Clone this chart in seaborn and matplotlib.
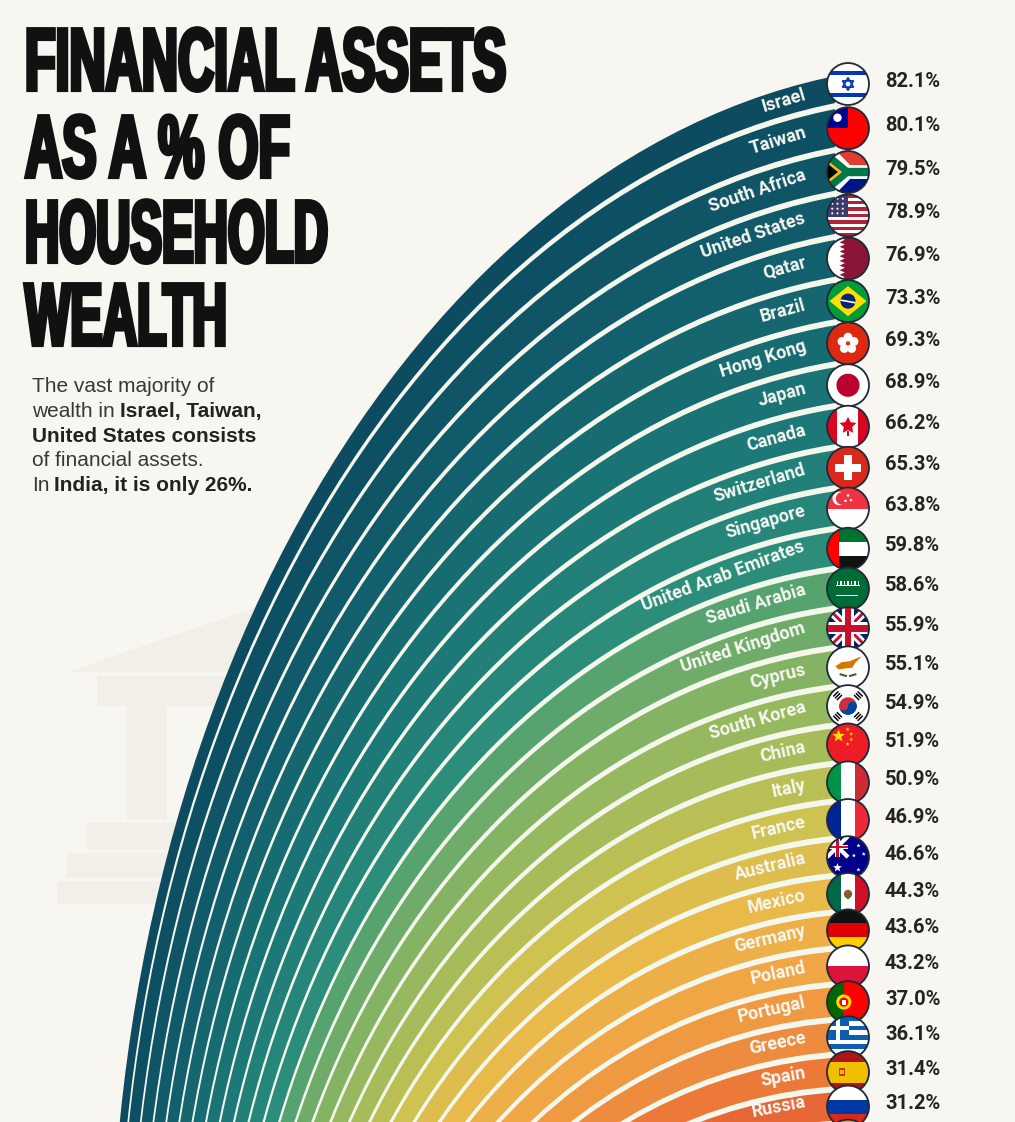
import numpy as np
import pandas as pd
import matplotlib
matplotlib.use('Agg')
import matplotlib.pyplot as plt
import seaborn as sns
from matplotlib import patches, font_manager
from matplotlib.colors import LinearSegmentedColormap
from matplotlib.patheffects import AbstractPathEffect
from matplotlib.transforms import Affine2D
from matplotlib.textpath import TextPath

# data
countries = ['Israel', 'Taiwan', 'South Africa', 'United States', 'Qatar', 'Brazil',
             'Hong Kong', 'Japan', 'Canada', 'Switzerland', 'Singapore',
             'United Arab Emirates', 'Saudi Arabia', 'United Kingdom', 'Cyprus',
             'South Korea', 'China', 'Italy', 'France', 'Australia', 'Mexico',
             'Germany', 'Poland', 'Portugal', 'Greece', 'Spain', 'Russia', 'India']
shares = [82.1, 80.1, 79.5, 78.9, 76.9, 73.3, 69.3, 68.9, 66.2, 65.3, 63.8,
          59.8, 58.6, 55.9, 55.1, 54.9, 51.9, 50.9, 46.9, 46.6, 44.3, 43.6,
          43.2, 37.0, 36.1, 31.4, 31.2, 26.0]
title_lines = ['FINANCIAL ASSETS', 'AS A % OF', 'HOUSEHOLD', 'WEALTH']
subtitle_lines = [
    [('The vast majority of', False)],
    [('wealth in', False), ('Israel, Taiwan,', True)],
    [('United States consists', True)],
    [('of financial assets.', False)],
    [('In', False), ('India, it is only 26%.', True)],
]

df = pd.DataFrame({'country': countries, 'share': shares})

sns.set_theme(style='white')
plt.rcParams['font.family'] = ['Roboto', 'DejaVu Sans']

BG = '#f8f6f0'
GAP = '#f3f7ec'
W, H = 1015, 1122

fig = plt.figure(figsize=(W / 100, H / 100), dpi=100, facecolor=BG)
ax = fig.add_axes([0, 0, 1, 1])
ax.set_xlim(0, W)
ax.set_ylim(H, 0)
ax.axis('off')
renderer = fig.canvas.get_renderer()


# stretches glyphs vertically and fattens them, to get a condensed poster face
class Stretch(AbstractPathEffect):
    def __init__(self, sy, lw):
        super().__init__()
        self.sy = sy
        self.lw = lw

    def draw_path(self, renderer, gc, tpath, affine, rgbFace=None):
        gc0 = renderer.new_gc()
        gc0.copy_properties(gc)
        gc0.set_linewidth(self.lw)
        gc0.set_foreground(rgbFace)
        gc0.set_joinstyle('miter')
        renderer.draw_path(gc0, tpath, Affine2D().scale(1.0, self.sy) + affine, rgbFace)
        gc0.restore()


# faint bank column in the background
ICON = '#f1efe8'
for pts in [[(68, 672), (320, 585), (320, 672)],
            [(97, 676), (320, 676), (320, 706), (97, 706)],
            [(127, 706), (167, 706), (167, 820), (127, 820)],
            [(87, 823), (320, 823), (320, 850), (87, 850)],
            [(67, 853), (320, 853), (320, 878), (67, 878)],
            [(57, 881), (320, 881), (320, 904), (57, 904)]]:
    ax.add_patch(patches.Polygon(pts, closed=True, fc=ICON, ec='none', zorder=1))

# nested arcs: tall ellipses that get rounder towards the inside
X_END = 835
k = np.arange(len(df))
df['y'] = 84 + 44.4 * k - 0.195 * k ** 2
mids = df['y'].to_numpy()
bounds = np.r_[76 - 3, (mids[1:] + mids[:-1]) / 2, mids[-1] + 20]
df['top'] = bounds[:-1] + 3
df['bot'] = bounds[1:] - 3

OUTER = dict(y=76, cx=951, a=840, s=1.4714)
INNER = dict(y=1092, cx=865, a=500, s=1.1)


def edge_ellipse(y_e):
    t = (y_e - OUTER['y']) / (INNER['y'] - OUTER['y'])
    cx = OUTER['cx'] + (INNER['cx'] - OUTER['cx']) * t
    a = OUTER['a'] + (INNER['a'] - OUTER['a']) * t
    b = a * (OUTER['s'] + (INNER['s'] - OUTER['s']) * t)
    cy = y_e + b * np.sqrt(1 - ((X_END - cx) / a) ** 2)
    return cx, cy, a, b


cmap = LinearSegmentedColormap.from_list('arcs', [
    (0.0, '#0d4b60'), (0.15, '#12606d'), (0.3, '#1d7a77'), (0.41, '#2c8e7a'),
    (0.445, '#58a46f'), (0.52, '#86b464'), (0.6, '#a9bc58'), (0.67, '#d0c251'),
    (0.74, '#e9b94a'), (0.81, '#f0a844'), (0.88, '#ee913f'), (0.94, '#eb7437'),
    (1.0, '#e25331')])
palette = sns.color_palette([cmap(t) for t in np.linspace(0, 1, len(df))])

clip = patches.Rectangle((0, 0), X_END, H + 50, transform=ax.transData)
for i, row in df.iterrows():
    for y_e, col, z in [(row.top, palette[i], 2 + 2 * i), (row.bot, GAP, 3 + 2 * i)]:
        cx, cy, a, b = edge_ellipse(y_e)
        e = patches.Ellipse((cx, cy), 2 * a, 2 * b, fc=col, ec='none', zorder=z)
        ax.add_patch(e)
        e.set_clip_path(clip)

# country names along the arcs
for i, row in df.iterrows():
    if row.y > H - 10:
        continue
    cx, cy, a, b = edge_ellipse(row.top + 0.45 * (row.bot - row.top))
    t = ax.text(0, 0, row.country, color='#f7f7f2', fontsize=13, fontweight='bold',
                ha='center', va='center', rotation_mode='anchor', zorder=150)
    w = t.get_window_extent(renderer).width
    th = -np.arccos((806 - cx) / a)
    th -= (w / 2) / np.hypot(a * np.sin(th), b * np.cos(th))
    xm, ym = cx + a * np.cos(th), cy + b * np.sin(th)
    t.set_position((xm, ym))
    t.set_rotation(-np.degrees(np.arctan2(b * np.cos(th), -a * np.sin(th))))
    # keep the lowest name inside the canvas
    y0 = t.get_window_extent(renderer).y0
    if y0 < 1:
        t.set_position((xm, ym - (1 - y0)))


# ---- flags (local coords: x right, y down, unit circle) ----
def rect(x0, y0, x1, y1, col):
    return ('poly', [(x0, y0), (x1, y0), (x1, y1), (x0, y1)], col)


def hs(cols, wts=None):
    wts = wts or [1] * len(cols)
    e = -1 + 2 * np.cumsum([0] + wts) / sum(wts)
    return [rect(-1, e[j], 1, e[j + 1], c) for j, c in enumerate(cols)]


def vs(cols, wts=None):
    wts = wts or [1] * len(cols)
    e = -1 + 2 * np.cumsum([0] + wts) / sum(wts)
    return [rect(e[j], -1, e[j + 1], 1, c) for j, c in enumerate(cols)]


def bar(x0, y0, x1, y1, w, col):
    d = np.array([x1 - x0, y1 - y0], dtype=float)
    d /= np.hypot(*d)
    p = np.array([-d[1], d[0]]) * w
    a, b = np.array([x0, y0]), np.array([x1, y1])
    return ('poly', [tuple(a + p), tuple(b + p), tuple(b - p), tuple(a - p)], col)


def star(x, y, R, col, ratio=0.42):
    ang = -np.pi / 2 + np.arange(10) * np.pi / 5
    rr = np.where(np.arange(10) % 2 == 0, R, R * ratio)
    return ('poly', list(zip(x + rr * np.cos(ang), y + rr * np.sin(ang))), col)


def circ(x, y, rr, col):
    return ('circ', x, y, rr, col)


def flag_shapes(name):
    if name == 'Israel':
        b = '#0038b8'
        return [rect(-1, -1, 1, 1, 'white'), rect(-1, -0.64, 1, -0.44, b),
                rect(-1, 0.44, 1, 0.64, b),
                ('line', [(0, -0.3), (0.26, 0.15), (-0.26, 0.15)], b, 1.2),
                ('line', [(0, 0.3), (0.26, -0.15), (-0.26, -0.15)], b, 1.2)]
    if name == 'Taiwan':
        return [rect(-1, -1, 1, 1, '#fe0000'), rect(-1, -1, 0, 0, '#000095'),
                circ(-0.5, -0.5, 0.2, 'white')]
    if name == 'South Africa':
        return [rect(-1, -1, 1, 0, '#e03c31'), rect(-1, 0, 1, 1, '#001489'),
                ('poly', [(-1, -1), (-0.55, -1), (0.1, -0.33), (1, -0.33), (1, 0.33),
                          (0.1, 0.33), (-0.55, 1), (-1, 1)], 'white'),
                ('poly', [(-1, -0.8), (-0.72, -0.8), (0, -0.2), (1, -0.2), (1, 0.2),
                          (0, 0.2), (-0.72, 0.8), (-1, 0.8)], '#007749'),
                ('poly', [(-1, -0.58), (-0.28, 0), (-1, 0.58)], '#ffb81c'),
                ('poly', [(-1, -0.42), (-0.48, 0), (-1, 0.42)], 'black')]
    if name == 'United States':
        s = hs(['#b22234', 'white'] * 6 + ['#b22234'])
        s.append(rect(-1, -1, 0.0, 0.08, '#3c3b6e'))
        for xx in (-0.75, -0.5, -0.25):
            for yy in (-0.8, -0.56, -0.32, -0.1):
                s.append(circ(xx, yy, 0.05, 'white'))
        return s
    if name == 'Qatar':
        zig = [(-0.4, -1)]
        for j in range(9):
            zig += [(-0.15, -1 + (2 * j + 1) / 9), (-0.4, -1 + (2 * j + 2) / 9)]
        zig += [(-1, 1), (-1, -1)]
        return [rect(-1, -1, 1, 1, '#8a1538'), ('poly', zig, 'white')]
    if name == 'Brazil':
        return [rect(-1, -1, 1, 1, '#009c3b'),
                ('poly', [(0, -0.72), (0.88, 0), (0, 0.72), (-0.88, 0)], '#ffdf00'),
                circ(0, 0, 0.36, '#002776'), bar(-0.36, -0.05, 0.36, 0.08, 0.04, 'white')]
    if name == 'Hong Kong':
        s = [rect(-1, -1, 1, 1, '#de2910')]
        for j in range(5):
            a = -np.pi / 2 + j * 2 * np.pi / 5
            s.append(circ(0.3 * np.cos(a), 0.3 * np.sin(a), 0.21, 'white'))
        return s
    if name == 'Japan':
        return [rect(-1, -1, 1, 1, 'white'), circ(0, 0, 0.55, '#bc002d')]
    if name == 'Canada':
        return vs(['#d80621', 'white', '#d80621'], [1, 2, 1]) + [
            star(0, -0.05, 0.42, '#d80621', 0.5), rect(-0.04, 0.2, 0.04, 0.45, '#d80621')]
    if name == 'Switzerland':
        return [rect(-1, -1, 1, 1, '#da291c'), rect(-0.18, -0.6, 0.18, 0.6, 'white'),
                rect(-0.6, -0.18, 0.6, 0.18, 'white')]
    if name == 'Singapore':
        return hs(['#ef3340', 'white']) + [
            circ(-0.42, -0.48, 0.32, 'white'), circ(-0.28, -0.48, 0.3, '#ef3340'),
            circ(0.0, -0.62, 0.06, 'white'), circ(-0.12, -0.36, 0.06, 'white'),
            circ(0.14, -0.4, 0.06, 'white')]
    if name == 'United Arab Emirates':
        return hs(['#00732f', 'white', '#111111']) + [rect(-1, -1, -0.45, 1, '#ff0000')]
    if name == 'Saudi Arabia':
        s = [rect(-1, -1, 1, 1, '#006c35'), rect(-0.55, 0.28, 0.5, 0.35, 'white'),
             rect(-0.55, -0.18, 0.55, -0.11, 'white')]
        for xx in np.linspace(-0.5, 0.5, 7):
            s.append(rect(xx - 0.025, -0.38, xx + 0.025, -0.11, 'white'))
        return s
    if name == 'United Kingdom':
        return [rect(-1, -1, 1, 1, '#012169'),
                bar(-1, -1, 1, 1, 0.2, 'white'), bar(-1, 1, 1, -1, 0.2, 'white'),
                bar(-1, -1, 1, 1, 0.07, '#c8102e'), bar(-1, 1, 1, -1, 0.07, '#c8102e'),
                rect(-1, -0.28, 1, 0.28, 'white'), rect(-0.28, -1, 0.28, 1, 'white'),
                rect(-1, -0.16, 1, 0.16, '#c8102e'), rect(-0.16, -1, 0.16, 1, '#c8102e')]
    if name == 'Cyprus':
        return [rect(-1, -1, 1, 1, 'white'),
                ('poly', [(-0.6, -0.05), (-0.3, -0.25), (0.1, -0.3), (0.45, -0.45),
                          (0.65, -0.52), (0.35, -0.22), (0.2, 0.02), (-0.2, 0.06),
                          (-0.45, 0.1)], '#d57800'),
                bar(-0.4, 0.32, -0.05, 0.42, 0.05, '#4e5b31'),
                bar(0.05, 0.42, 0.4, 0.32, 0.05, '#4e5b31')]
    if name == 'South Korea':
        s = [rect(-1, -1, 1, 1, 'white'),
             ('wedge', 0, 0, 0.42, 180, 360, '#cd2e3a'),
             ('wedge', 0, 0, 0.42, 0, 180, '#0047a0'),
             circ(-0.21, 0, 0.21, '#cd2e3a'), circ(0.21, 0, 0.21, '#0047a0')]
        for sx_, sy_ in [(-1, -1), (1, -1), (-1, 1), (1, 1)]:
            d = np.array([sx_, sy_]) / np.sqrt(2)
            p = np.array([-sy_, sx_]) / np.sqrt(2)
            for dist in (0.58, 0.7, 0.82):
                a, b = d * dist - p * 0.17, d * dist + p * 0.17
                s.append(bar(a[0], a[1], b[0], b[1], 0.035, 'black'))
        return s
    if name == 'China':
        y = '#ffde00'
        return [rect(-1, -1, 1, 1, '#ee1c25'), star(-0.45, -0.4, 0.32, y),
                star(-0.02, -0.72, 0.1, y), star(0.15, -0.5, 0.1, y),
                star(0.15, -0.24, 0.1, y), star(-0.02, -0.02, 0.1, y)]
    if name == 'Italy':
        return vs(['#009246', 'white', '#ce2b37'])
    if name == 'France':
        return vs(['#002395', 'white', '#ed2939'])
    if name == 'Australia':
        return [rect(-1, -1, 1, 1, '#00008b'),
                bar(-1, -1, 0, 0, 0.1, 'white'), bar(-1, 0, 0, -1, 0.1, 'white'),
                rect(-1, -0.6, 0, -0.4, 'white'), rect(-0.6, -1, -0.4, 0, 'white'),
                rect(-1, -0.55, 0, -0.45, '#c8102e'), rect(-0.55, -1, -0.45, 0, '#c8102e'),
                star(-0.5, 0.5, 0.22, 'white'), star(0.5, -0.55, 0.1, 'white'),
                star(0.28, -0.08, 0.1, 'white'), star(0.75, -0.15, 0.1, 'white'),
                star(0.5, 0.6, 0.1, 'white')]
    if name == 'Mexico':
        return vs(['#006847', 'white', '#ce1126']) + [
            circ(0, 0, 0.2, '#8c5a2b'), circ(0, 0.14, 0.1, '#4b7a2a')]
    if name == 'Germany':
        return hs(['#111111', '#dd0000', '#ffce00'])
    if name == 'Poland':
        return hs(['white', '#dc143c'])
    if name == 'Portugal':
        return vs(['#006600', '#ff0000'], [2, 3]) + [
            circ(-0.2, 0, 0.36, '#ffe000'), circ(-0.2, 0, 0.22, '#ff0000'),
            rect(-0.3, -0.12, -0.1, 0.14, 'white')]
    if name == 'Greece':
        b = '#0d5eaf'
        return hs([b, 'white'] * 4 + [b]) + [
            rect(-1, -1, 0.05, 0.11, b), rect(-1, -0.555, 0.05, -0.335, 'white'),
            rect(-0.585, -1, -0.365, 0.11, 'white')]
    if name == 'Spain':
        return hs(['#aa151b', '#f1bf00', '#aa151b'], [1, 2, 1]) + [
            rect(-0.45, -0.22, -0.15, 0.18, '#c0392b'), rect(-0.4, -0.12, -0.2, 0.1, '#f1bf00')]
    if name == 'Russia':
        return hs(['white', '#0039a6', '#d52b1e'])
    if name == 'India':
        return hs(['#ff9933', 'white', '#138808']) + [circ(0, 0, 0.2, '#000080'),
                                                      circ(0, 0, 0.15, 'white')]
    return [rect(-1, -1, 1, 1, '#cccccc')]


def draw_flag(name, xc, yc, r, z):
    clipc = patches.Circle((xc, yc), r, transform=ax.transData)
    for j, s in enumerate(flag_shapes(name)):
        if s[0] == 'poly':
            p = patches.Polygon([(xc + r * a, yc + r * b) for a, b in s[1]],
                                closed=True, fc=s[2], ec='none')
        elif s[0] == 'circ':
            p = patches.Circle((xc + r * s[1], yc + r * s[2]), r * s[3], fc=s[4], ec='none')
        elif s[0] == 'wedge':
            p = patches.Wedge((xc + r * s[1], yc + r * s[2]), r * s[3], s[4], s[5],
                              fc=s[6], ec='none')
        else:
            p = patches.Polygon([(xc + r * a, yc + r * b) for a, b in s[1]],
                                closed=True, fill=False, ec=s[2], lw=s[3])
        p.set_zorder(z + 0.01 * j)
        ax.add_patch(p)
        p.set_clip_path(clipc)
    ax.add_patch(patches.Circle((xc, yc), r, fc='none', ec='#1f2a36', lw=1.3, zorder=z + 0.9))


for i, row in df.iterrows():
    draw_flag(row.country, 848, row.y, 21, 300 + i)
    if row.y < H - 10:
        ax.text(885, row.y - 3, f'{row.share:.1f}%', fontsize=14.5, fontweight='bold',
                color='#232323', ha='left', va='center', zorder=500)

# title: condensed look made from a bold sans, widths and cap height from the poster
names = {f.name for f in font_manager.fontManager.ttflist}
title_font = 'Liberation Sans Narrow' if 'Liberation Sans Narrow' in names else 'Liberation Sans'
fp = font_manager.FontProperties(family=title_font, weight='bold')
cap_ratio = TextPath((0, 0), 'H', size=1, prop=fp).get_extents().height
STROKE = 3.0
stroke_px = STROKE * 100 / 72
title_base = [90, 177, 262, 345]
title_width = [485, 269, 307, 206]
for line, yb, tw in zip(title_lines, title_base, title_width):
    t = ax.text(25, yb, line, fontproperties=fp, fontsize=40, color='#111111',
                ha='left', va='baseline', zorder=600)
    w = t.get_window_extent(renderer).width
    fs = 40 * (tw - stroke_px) / w
    t.set_fontsize(fs)
    sy = (65 - stroke_px) / (cap_ratio * fs * 100 / 72)
    t.set_path_effects([Stretch(sy, STROKE)])

# subtitle with bold runs
sub_base = [392, 417, 442, 466, 491]
for parts, yb in zip(subtitle_lines, sub_base):
    x = 32
    for text, bold in parts:
        t = ax.text(x, yb, text, family='Liberation Sans', fontsize=15,
                    fontweight='bold' if bold else 'normal',
                    color='#222222' if bold else '#383838',
                    ha='left', va='baseline', zorder=600)
        x = t.get_window_extent(renderer).x1 + 5

fig.savefig('out.png', dpi=100, facecolor=BG)
